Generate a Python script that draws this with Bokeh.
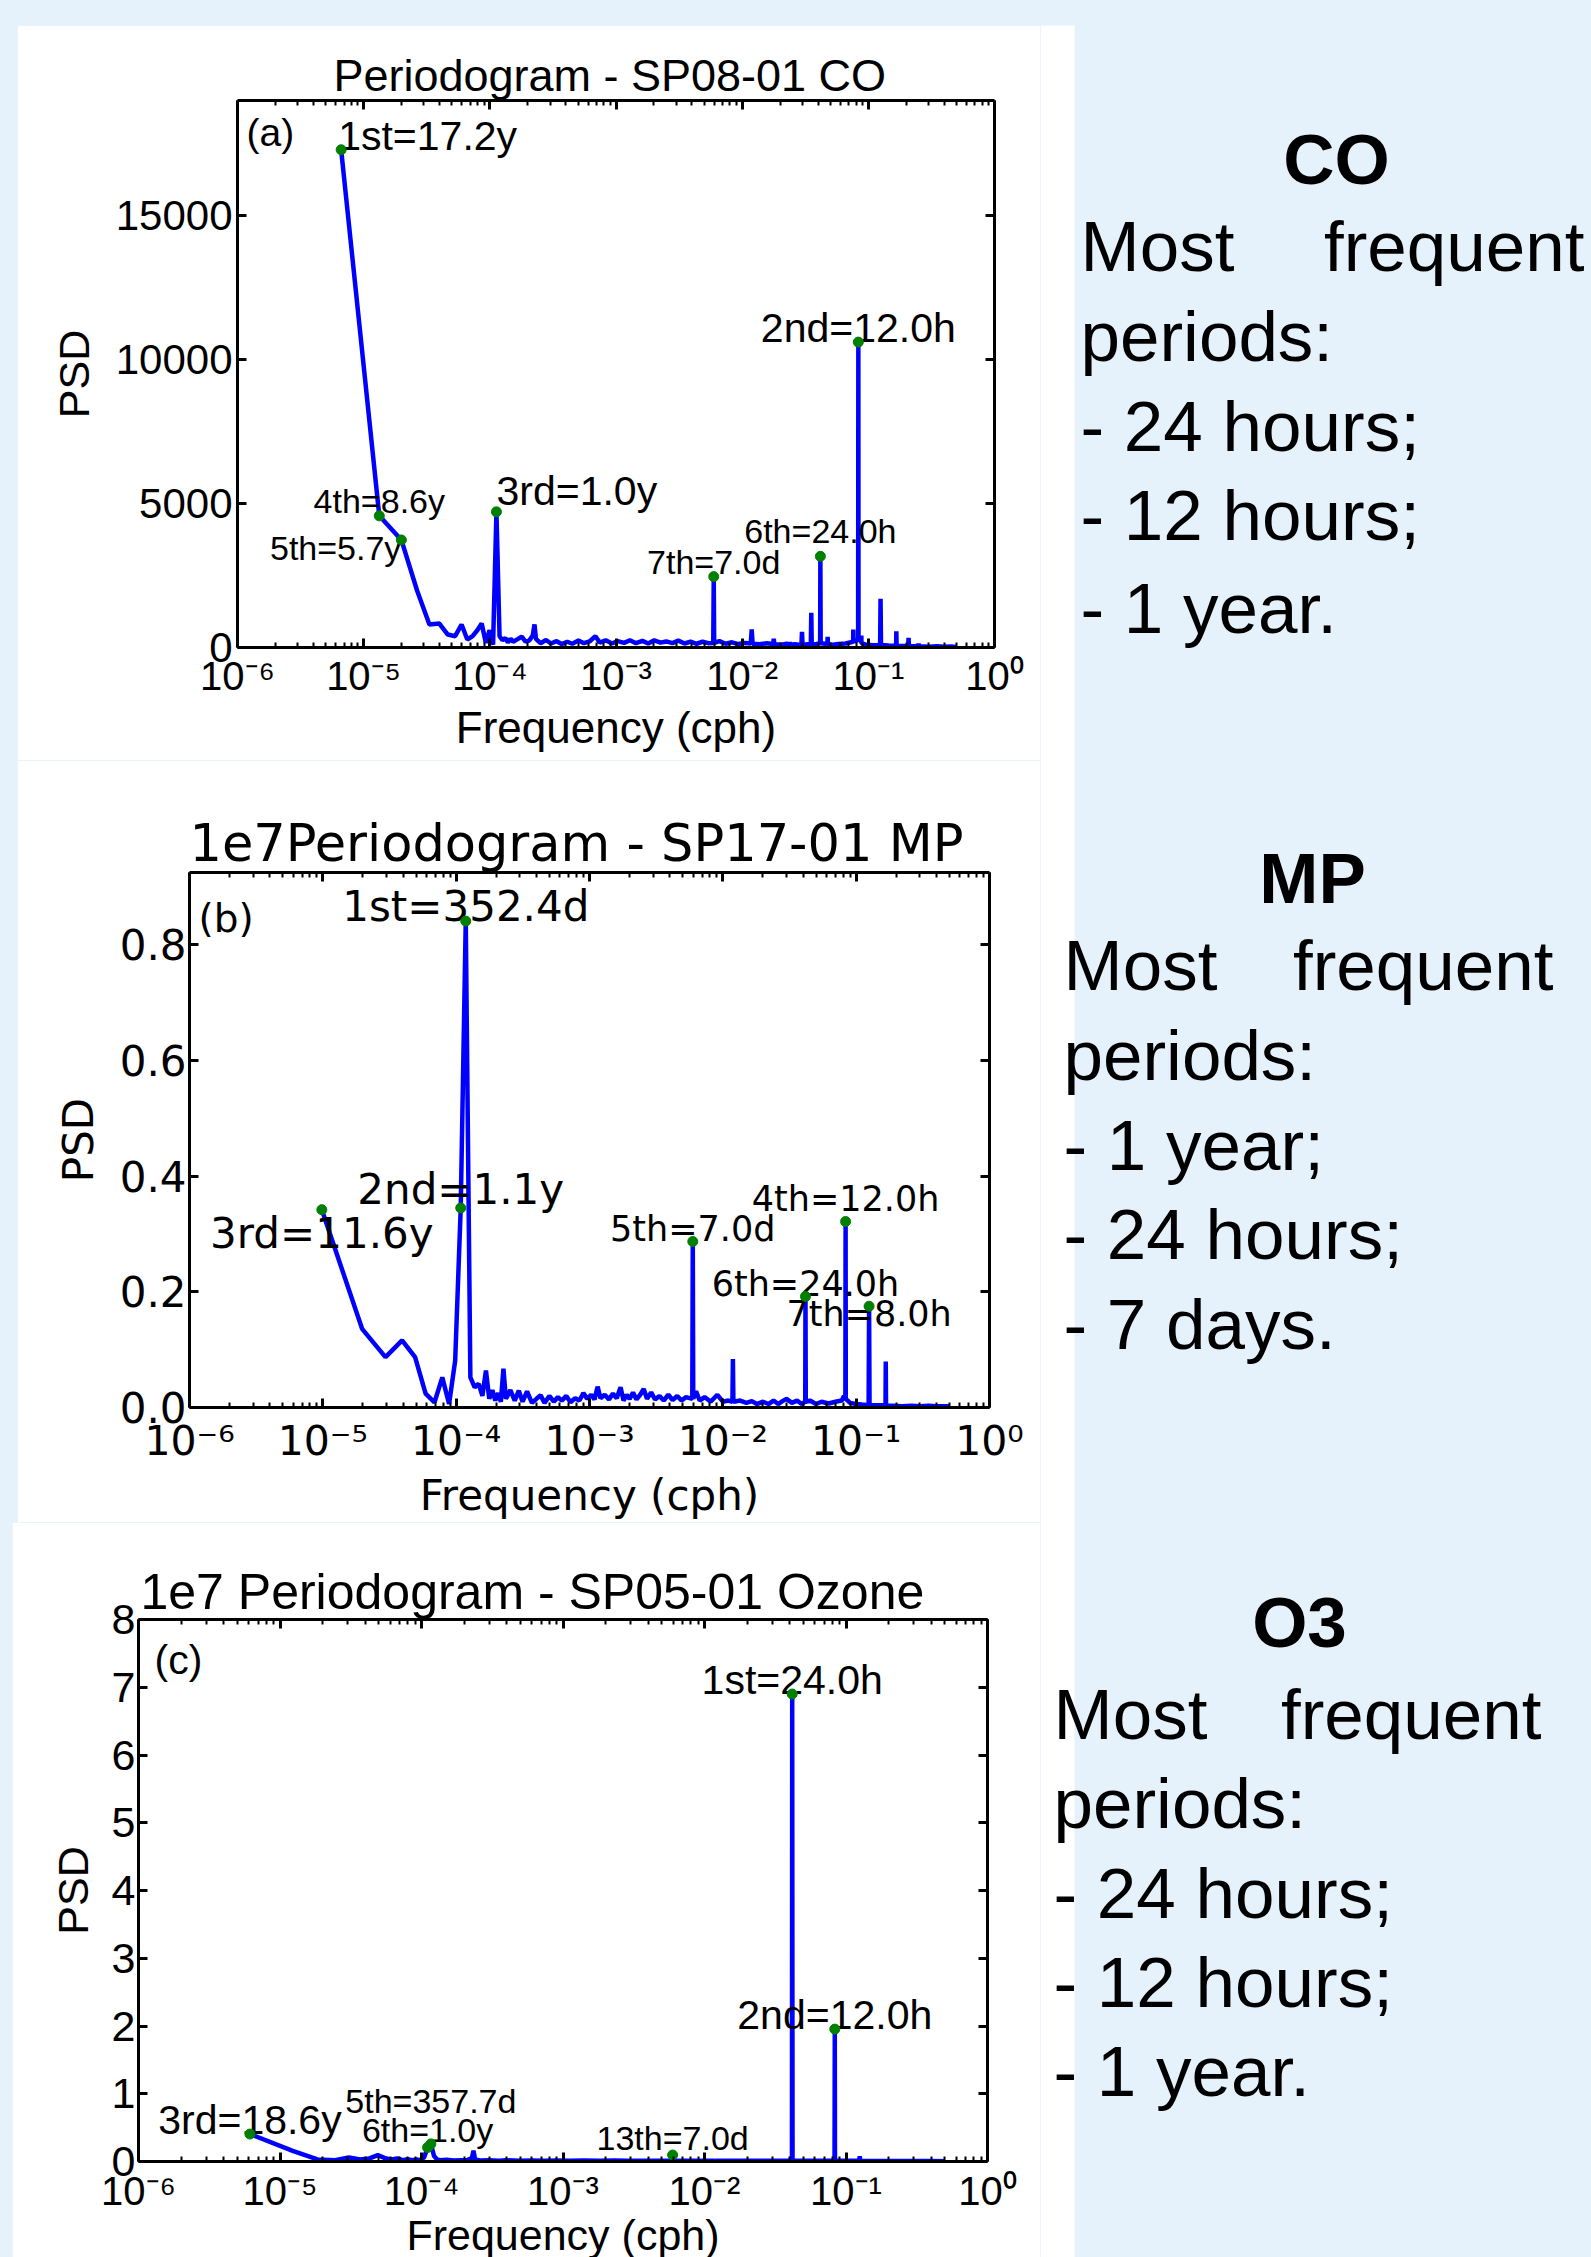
from bokeh.plotting import figure
from bokeh.models import (Range1d, FixedTicker, LinearAxis, LogAxis, Label, BoxAnnotation,
                          NumeralTickFormatter, CustomJSTickFormatter, Spacer)
from bokeh.layouts import column, row
from bokeh.embed import file_html
from bokeh.resources import INLINE
from bokeh.core.properties import value

# ------------------------------------------------------------------ data
x_decades = [1e-6, 1e-5, 1e-4, 1e-3, 1e-2, 1e-1, 1e0]
x_decade_labels = ["10⁻⁶", "10⁻⁵", "10⁻⁴", "10⁻³", "10⁻²", "10⁻¹", "10⁰"]

# (a) SP08-01 CO
title_a = "Periodogram - SP08-01  CO"
yticks_a = [0, 5000, 10000, 15000]
freq_a = [6.63e-6, 1.33e-5, 1.99e-5, 2.65e-5, 3.32e-5, 3.98e-5, 4.64e-5, 5.31e-5, 5.97e-5, 6.63e-5,
          7.30e-5, 7.96e-5, 8.62e-5, 9.29e-5, 9.95e-5, 1.061e-4, 1.128e-4, 1.194e-4, 1.26e-4, 1.33e-4,
          1.39e-4, 1.46e-4, 1.53e-4, 1.66e-4, 1.79e-4, 1.92e-4, 2.06e-4, 2.19e-4, 2.26e-4, 2.32e-4,
          2.52e-4, 2.79e-4, 3.05e-4, 3.38e-4, 3.71e-4, 4.11e-4, 4.51e-4, 5.04e-4, 5.57e-4, 6.17e-4,
          6.87e-4, 7.43e-4, 8.29e-4, 9.29e-4, 1.03e-3, 1.16e-3, 1.29e-3, 1.44e-3, 1.62e-3, 1.80e-3,
          2.01e-3, 2.25e-3, 2.50e-3, 2.80e-3, 3.12e-3, 3.49e-3, 3.90e-3, 4.35e-3, 4.86e-3, 5.40e-3,
          5.90e-3, 5.952e-3, 6.00e-3, 6.60e-3, 7.40e-3, 8.30e-3, 9.30e-3, 1.05e-2, 1.17e-2, 1.19e-2,
          1.21e-2, 1.38e-2, 1.56e-2, 1.76e-2, 1.78e-2, 1.80e-2, 2.05e-2, 2.25e-2, 2.36e-2, 2.38e-2,
          2.40e-2, 2.60e-2, 2.95e-2, 2.98e-2, 3.01e-2, 3.30e-2, 3.50e-2, 3.53e-2, 3.56e-2, 3.90e-2,
          4.15e-2, 4.167e-2, 4.19e-2, 4.74e-2, 4.76e-2, 4.78e-2, 5.20e-2, 5.80e-2, 6.60e-2, 7.58e-2,
          7.60e-2, 7.62e-2, 7.90e-2, 8.30e-2, 8.333e-2, 8.36e-2, 8.78e-2, 8.80e-2, 8.82e-2, 9.60e-2,
          1.10e-1, 1.24e-1, 1.25e-1, 1.26e-1, 1.45e-1, 1.66e-1, 1.667e-1, 1.675e-1, 1.90e-1, 2.07e-1,
          2.083e-1, 2.10e-1, 2.30e-1, 2.49e-1, 2.50e-1, 2.52e-1, 3.00e-1, 3.50e-1, 4.00e-1, 4.50e-1,
          5.00e-1]
psd_a = [17290, 4573, 3736, 1980, 800, 830, 450, 393, 800, 278,
         393, 600, 833, 163, 600, 100, 4712, 393, 250, 330,
         180, 300, 200, 290, 380, 200, 250, 420, 800, 300,
         150, 260, 140, 220, 120, 200, 130, 240, 150, 210,
         393, 170, 250, 140, 220, 160, 250, 150, 230, 140,
         250, 170, 210, 150, 240, 140, 200, 130, 200, 150,
         160, 2462, 160, 220, 130, 180, 120, 160, 140, 625,
         130, 110, 150, 120, 300, 110, 100, 130, 100, 185,
         100, 110, 90, 545, 90, 110, 100, 1205, 100, 120,
         150, 3167, 150, 120, 370, 110, 100, 120, 140, 200,
         625, 250, 200, 300, 10608, 300, 200, 417, 150, 100,
         80, 90, 1690, 90, 70, 60, 566, 60, 50, 50,
         337, 50, 40, 40, 139, 40, 30, 40, 25, 35,
         20]
peak_a_freq = [6.63e-6, 8.333e-2, 1.128e-4, 1.33e-5, 1.99e-5, 4.167e-2, 5.952e-3]
peak_a_psd = [17290, 10608, 4712, 4573, 3736, 3167, 2462]
peak_a_text = ["1st=17.2y", "2nd=12.0h", "3rd=1.0y", "4th=8.6y", "5th=5.7y", "6th=24.0h", "7th=7.0d"]

# (b) SP17-01 MP  (PSD in units of 1e7)
title_b = "1e7Periodogram - SP17-01 MP"
yticks_b = [0.0, 0.2, 0.4, 0.6, 0.8]
freq_b = [9.83e-6, 1.97e-5, 2.95e-5, 3.93e-5, 4.92e-5, 5.90e-5, 6.88e-5, 7.87e-5, 8.85e-5, 9.83e-5,
          1.082e-4, 1.180e-4, 1.278e-4, 1.377e-4, 1.475e-4, 1.573e-4, 1.672e-4, 1.770e-4, 1.868e-4, 1.967e-4,
          2.065e-4, 2.163e-4, 2.262e-4, 2.360e-4, 2.55e-4, 2.75e-4, 2.95e-4, 3.15e-4, 3.40e-4, 3.70e-4,
          4.00e-4, 4.30e-4, 4.60e-4, 5.00e-4, 5.40e-4, 5.80e-4, 6.20e-4, 6.70e-4, 7.20e-4, 7.80e-4,
          8.40e-4, 9.00e-4, 9.60e-4, 1.03e-3, 1.09e-3, 1.15e-3, 1.21e-3, 1.30e-3, 1.40e-3, 1.50e-3,
          1.60e-3, 1.71e-3, 1.80e-3, 1.90e-3, 2.00e-3, 2.12e-3, 2.25e-3, 2.40e-3, 2.55e-3, 2.70e-3,
          2.90e-3, 3.10e-3, 3.35e-3, 3.60e-3, 3.90e-3, 4.20e-3, 4.55e-3, 4.90e-3, 5.30e-3, 5.90e-3,
          5.952e-3, 6.00e-3, 6.30e-3, 6.70e-3, 7.30e-3, 8.10e-3, 9.10e-3, 1.00e-2, 1.10e-2, 1.18e-2,
          1.19e-2, 1.20e-2, 1.35e-2, 1.50e-2, 1.65e-2, 1.80e-2, 2.00e-2, 2.20e-2, 2.40e-2, 2.60e-2,
          2.80e-2, 3.00e-2, 3.30e-2, 3.60e-2, 3.90e-2, 4.15e-2, 4.167e-2, 4.19e-2, 4.50e-2, 5.00e-2,
          5.50e-2, 6.20e-2, 7.00e-2, 7.80e-2, 8.10e-2, 8.30e-2, 8.333e-2, 8.36e-2, 9.00e-2, 1.00e-1,
          1.10e-1, 1.24e-1, 1.25e-1, 1.26e-1, 1.45e-1, 1.66e-1, 1.667e-1, 1.675e-1, 1.90e-1, 2.20e-1,
          2.60e-1, 3.00e-1, 3.50e-1, 4.00e-1, 4.50e-1, 5.00e-1]
psd_b = [0.342, 0.136, 0.087, 0.116, 0.087, 0.024, 0.009, 0.052, 0.006, 0.081,
         0.345, 0.841, 0.052, 0.035, 0.041, 0.020, 0.064, 0.015, 0.030, 0.012,
         0.025, 0.010, 0.067, 0.015, 0.030, 0.012, 0.029, 0.010, 0.028, 0.008,
         0.015, 0.021, 0.008, 0.020, 0.010, 0.018, 0.012, 0.020, 0.009, 0.016,
         0.012, 0.025, 0.015, 0.022, 0.014, 0.036, 0.016, 0.022, 0.014, 0.024,
         0.016, 0.035, 0.012, 0.022, 0.015, 0.026, 0.014, 0.022, 0.032, 0.015,
         0.026, 0.014, 0.020, 0.012, 0.022, 0.013, 0.020, 0.012, 0.018, 0.015,
         0.287, 0.015, 0.028, 0.012, 0.018, 0.010, 0.022, 0.010, 0.012, 0.010,
         0.084, 0.010, 0.012, 0.008, 0.011, 0.006, 0.010, 0.006, 0.012, 0.006,
         0.011, 0.015, 0.008, 0.012, 0.006, 0.010, 0.192, 0.010, 0.012, 0.006,
         0.010, 0.007, 0.010, 0.012, 0.020, 0.015, 0.3215, 0.015, 0.008, 0.006,
         0.005, 0.004, 0.175, 0.004, 0.004, 0.004, 0.0795, 0.003, 0.003, 0.002,
         0.003, 0.002, 0.003, 0.002, 0.002, 0.002]
peak_b_freq = [1.180e-4, 1.082e-4, 9.83e-6, 8.333e-2, 5.952e-3, 4.167e-2, 1.25e-1]
peak_b_psd = [0.841, 0.345, 0.342, 0.3215, 0.287, 0.192, 0.175]
peak_b_text = ["1st=352.4d", "2nd=1.1y", "3rd=11.6y", "4th=12.0h", "5th=7.0d", "6th=24.0h", "7th=8.0h"]

# (c) SP05-01 Ozone  (PSD in units of 1e7)
title_c = "1e7 Periodogram - SP05-01 Ozone"
yticks_c = [0, 1, 2, 3, 4, 5, 6, 7, 8]
freq_c = [6.13e-6, 1.23e-5, 1.84e-5, 2.45e-5, 3.07e-5, 3.68e-5, 4.29e-5, 4.91e-5, 5.52e-5, 6.13e-5,
          6.75e-5, 7.36e-5, 7.97e-5, 8.59e-5, 9.20e-5, 9.81e-5, 1.043e-4, 1.104e-4, 1.165e-4, 1.227e-4,
          1.288e-4, 1.35e-4, 1.50e-4, 1.70e-4, 1.90e-4, 2.10e-4, 2.27e-4, 2.33e-4, 2.39e-4, 2.60e-4,
          3.00e-4, 3.50e-4, 4.00e-4, 5.00e-4, 6.00e-4, 7.50e-4, 9.00e-4, 1.10e-3, 1.40e-3, 1.80e-3,
          2.30e-3, 2.90e-3, 3.60e-3, 4.50e-3, 5.90e-3, 5.952e-3, 6.00e-3, 7.50e-3, 9.50e-3, 1.18e-2,
          1.19e-2, 1.20e-2, 1.60e-2, 2.20e-2, 3.00e-2, 4.15e-2, 4.167e-2, 4.19e-2, 5.50e-2, 7.00e-2,
          8.30e-2, 8.333e-2, 8.36e-2, 1.00e-1, 1.24e-1, 1.25e-1, 1.26e-1, 1.70e-1, 2.20e-1, 3.00e-1,
          4.00e-1, 5.00e-1]
psd_c = [0.405, 0.157, 0.030, 0.020, 0.060, 0.030, 0.045, 0.095, 0.050, 0.030,
         0.045, 0.020, 0.035, 0.020, 0.030, 0.020, 0.060, 0.207, 0.260, 0.080,
         0.030, 0.020, 0.025, 0.015, 0.020, 0.020, 0.050, 0.160, 0.030, 0.015,
         0.020, 0.012, 0.018, 0.012, 0.016, 0.010, 0.015, 0.010, 0.014, 0.010,
         0.013, 0.010, 0.012, 0.010, 0.012, 0.096, 0.012, 0.010, 0.012, 0.010,
         0.030, 0.010, 0.010, 0.010, 0.010, 0.010, 6.90, 0.010, 0.010, 0.010,
         0.012, 1.954, 0.012, 0.010, 0.010, 0.077, 0.010, 0.008, 0.008, 0.006,
         0.006, 0.005]
peak_c_freq = [4.167e-2, 8.333e-2, 6.13e-6, 1.165e-4, 1.104e-4, 5.952e-3]
peak_c_psd = [6.90, 1.954, 0.405, 0.260, 0.207, 0.096]
peak_c_text = ["1st=24.0h", "2nd=12.0h", "3rd=18.6y", "5th=357.7d", "6th=1.0y", "13th=7.0d"]

# right-hand notes
note_headers = ["CO", "MP", "O3"]
note_first_left = ["Most", "Most", "Most"]
note_first_right = ["frequent", "frequent", "frequent"]
note_lines = [["periods:", "- 24 hours;", "- 12 hours;", "- 1 year."],
              ["periods:", "- 1 year;", "- 24 hours;", "- 7 days."],
              ["periods:", "- 24 hours;", "- 12 hours;", "- 1 year."]]

# ------------------------------------------------------------------ style
BLUE = "#e5f1fb"
LINE = "#0000ff"
DOT = "#008000"
ARIAL = "Liberation Sans"
DEJAVU = "DejaVu Sans"
MID = 0.347   # distance (in em) from the text middle to the alphabetic baseline
minor_x = [m * d for d in x_decades[:-1] for m in range(2, 10)]


def sup_formatter():
    return CustomJSTickFormatter(args=dict(decs=x_decades, labs=x_decade_labels), code="""
        for (let i = 0; i < decs.length; i++) {
            if (Math.abs(Math.log10(decs[i]) - Math.log10(tick)) < 1e-6) { return labs[i]; }
        }
        return "";
    """)


def style_axis(ax, font, size, standoff, show):
    ax.axis_line_width = 3
    ax.axis_line_color = "black"
    ax.major_tick_in = 9
    ax.major_tick_out = 0
    ax.minor_tick_in = 5
    ax.minor_tick_out = 0
    ax.major_tick_line_width = 3
    ax.minor_tick_line_width = 2
    ax.major_tick_line_color = "black"
    ax.minor_tick_line_color = "black"
    ax.major_label_text_font = font
    if show:
        ax.major_label_text_color = "black"
        ax.major_label_text_font_size = f"{size}px"
        ax.major_label_standoff = standoff
    else:
        ax.major_label_text_color = None
        ax.major_label_text_font_size = "1px"
        ax.major_label_standoff = 0


def make_panel(geom, ymax, yticks, yfmt, freq, psd, pk_f, pk_p, pk_t, pk_sty, font, ax_sty,
               title, title_sty, letter):
    left, fw, right, top, fh, bottom = geom
    p = figure(frame_width=fw, frame_height=fh,
               min_border_left=left, min_border_right=right,
               min_border_top=top, min_border_bottom=bottom,
               x_axis_type="log", x_range=Range1d(1e-6, 1.0), y_range=Range1d(0, ymax),
               toolbar_location=None, output_backend="svg")
    p.grid.visible = False
    p.outline_line_color = None
    p.background_fill_color = "white"
    p.border_fill_color = "white"

    # title (drawn outside the frame by Bokeh's own title panel)
    t_size, t_align, t_offset, t_standoff = title_sty
    p.title.text = title
    p.title.text_font = font
    p.title.text_font_size = f"{t_size}px"
    p.title.text_font_style = "normal"
    p.title.text_color = "black"
    p.title.align = t_align
    p.title.offset = t_offset
    p.title.standoff = t_standoff

    xtick_px, xtick_so, xlab_px, xlab_so, ytick_px, ytick_so, ylab_px, ylab_so = ax_sty
    xa = p.xaxis[0]
    ya = p.yaxis[0]
    xa.ticker = FixedTicker(ticks=x_decades, minor_ticks=minor_x)
    xa.formatter = sup_formatter()
    ya.ticker = FixedTicker(ticks=yticks, minor_ticks=[])
    if yfmt:
        ya.formatter = NumeralTickFormatter(format=yfmt)
    top_ax = LogAxis(ticker=FixedTicker(ticks=x_decades, minor_ticks=minor_x))
    right_ax = LinearAxis(ticker=FixedTicker(ticks=yticks, minor_ticks=[]))
    p.add_layout(top_ax, "above")
    p.add_layout(right_ax, "right")
    style_axis(xa, font, xtick_px, xtick_so, True)
    style_axis(ya, font, ytick_px, ytick_so, True)
    style_axis(top_ax, font, 0, 0, False)
    style_axis(right_ax, font, 0, 0, False)

    xa.axis_label = "Frequency (cph)"
    ya.axis_label = "PSD"
    for ax, sz, so in ((xa, xlab_px, xlab_so), (ya, ylab_px, ylab_so)):
        ax.axis_label_text_font = font
        ax.axis_label_text_font_size = f"{sz}px"
        ax.axis_label_text_font_style = "normal"
        ax.axis_label_text_color = "black"
        ax.axis_label_standoff = so

    p.line(freq, psd, line_color=LINE, line_width=4.5)
    for f, v, t, (al, dx, dy, sz) in zip(pk_f, pk_p, pk_t, pk_sty):
        p.text(x=[f], y=[v], text=[t], text_font=value(font), text_font_size=f"{sz}px",
               text_align=al, text_baseline="middle", x_offset=dx, y_offset=dy - MID * sz,
               text_color="black")
    p.scatter(pk_f, pk_p, size=10, color=DOT, line_color=DOT)

    # panel letter, inside the frame (x from frame left, baseline below frame top)
    lt, lx, ly, lsz = letter
    p.add_layout(Label(x=lx, y=fh - ly + MID * lsz, x_units="screen", y_units="screen", text=lt,
                       text_font=font, text_font_size=f"{lsz}px", text_align="left",
                       text_baseline="middle", text_color="black"))
    return p


# geometry: (min_border_left, frame_width, min_border_right, min_border_top, frame_height, min_border_bottom)
fig_a = make_panel((220, 757, 46, 75, 547, 113), 19000, yticks_a, None, freq_a, psd_a,
                   peak_a_freq, peak_a_psd, peak_a_text,
                   [("left", -3, 0, 41), ("center", 0, 0, 41), ("left", 0, -7, 41), ("center", 0, -3, 34),
                    ("right", 0, 20, 34), ("center", 0, -14, 34), ("center", 0, -3, 34)],
                   ARIAL, (40, 6, 44, 2, 42, 5, 43, 15),
                   title_a, (45, "center", 0, 0), ("(a)", 9, 46, 39))

fig_b = make_panel((172, 800, 51, 112, 535, 112), 0.925, yticks_b, "0.0", freq_b, psd_b,
                   peak_b_freq, peak_b_psd, peak_b_text,
                   [("center", 0, 0, 42), ("center", 0, -4, 42), ("center", 0, 38, 42), ("center", 0, -10, 35),
                    ("center", 0, 0, 35), ("center", 0, 0, 35), ("center", 0, 20, 35)],
                   DEJAVU, (41, 9, 42, 3, 42, 3, 42, 14),
                   title_b, (51, "left", 0, 0), ("(b)", 9, 60, 39))

fig_c = make_panel((126, 849, 53, 97, 542, 99), 8, yticks_c, None, freq_c, psd_c,
                   peak_c_freq, peak_c_psd, peak_c_text,
                   [("center", 0, 0, 41), ("center", 0, 0, 41), ("center", 0, 0, 41), ("center", 0, -31, 34),
                    ("center", 0, -6, 34), ("center", 0, -5, 34)],
                   ARIAL, (40, 7, 43, -5, 43, 3, 43, 12),
                   title_c, (50, "left", 2, 0), ("(c)", 16, 55, 41))

# ------------------------------------------------------------------ right-hand notes
NOTE_X0 = 1040
HDR_PX, TXT_PX = 71, 71
hdr_x = [1336, 1312, 1299]
hdr_y = [184, 903, 1647]
most_x = [1080, 1063, 1053]
freq_right_x = [1584, 1553, 1541]
first_y = [271, 990, 1739]
line_y = [[361, 451, 540, 633], [1080, 1170, 1259, 1349], [1828, 1918, 2007, 2096]]

tf = figure(width=551, height=2257, x_range=Range1d(0, 551), y_range=Range1d(2257, 0),
            x_axis_location=None, y_axis_location=None, min_border=0,
            toolbar_location=None, output_backend="svg")
tf.grid.visible = False
tf.outline_line_color = None
tf.background_fill_color = BLUE
tf.border_fill_color = BLUE
tf.add_layout(BoxAnnotation(left=0, right=1074 - NOTE_X0, top=25, bottom=2257, fill_color="white",
                            fill_alpha=1, line_color=None, level="underlay"))
for i in range(3):
    tf.text(x=[hdr_x[i] - NOTE_X0], y=[hdr_y[i] - MID * HDR_PX], text=[note_headers[i]],
            text_font=value(ARIAL), text_font_size=f"{HDR_PX}px", text_font_style="bold",
            text_align="center", text_baseline="middle", text_color="black")
    tf.text(x=[most_x[i] - NOTE_X0], y=[first_y[i] - MID * TXT_PX], text=[note_first_left[i]],
            text_font=value(ARIAL), text_font_size=f"{TXT_PX}px", text_align="left",
            text_baseline="middle", text_color="black")
    tf.text(x=[freq_right_x[i] - NOTE_X0], y=[first_y[i] - MID * TXT_PX], text=[note_first_right[i]],
            text_font=value(ARIAL), text_font_size=f"{TXT_PX}px", text_align="right",
            text_baseline="middle", text_color="black")
    tf.text(x=[most_x[i] - NOTE_X0] * 4, y=[yy - MID * TXT_PX for yy in line_y[i]], text=note_lines[i],
            text_font=value(ARIAL), text_font_size=f"{TXT_PX}px", text_align="left",
            text_baseline="middle", text_color="black")

# ------------------------------------------------------------------ layout
left_col = column(Spacer(width=1040, height=25),
                  row(Spacer(width=17, height=735), fig_a),
                  row(Spacer(width=17, height=759), fig_b),
                  row(Spacer(width=12, height=738), fig_c))
root = row(left_col, tf, styles={"background-color": BLUE})

open("out.html", "w").write(file_html(root, INLINE, title="Periodograms"))
